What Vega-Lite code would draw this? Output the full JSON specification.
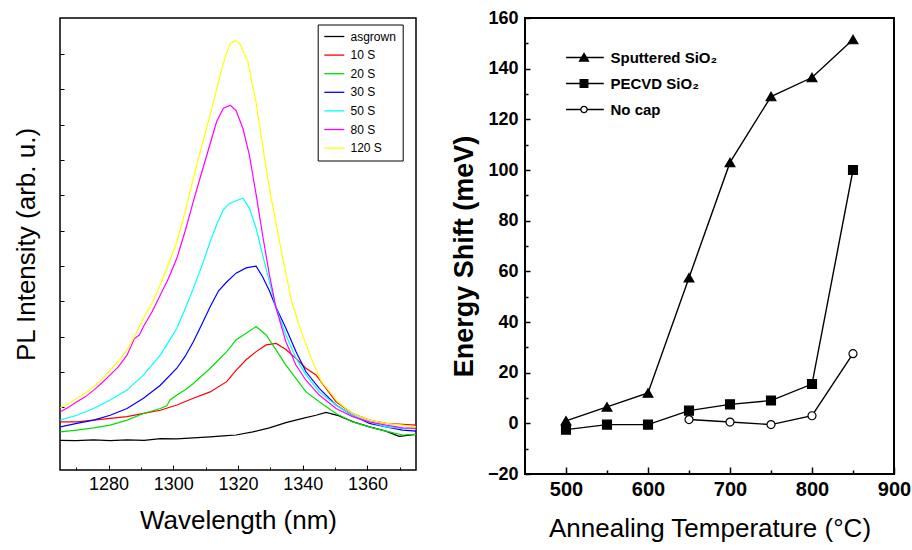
{
  "$schema": "https://vega.github.io/schema/vega-lite/v6.json",
  "padding": {"left": 12, "top": 8, "right": 0, "bottom": 0},
  "autosize": {"type": "pad"},
  "background": "white",
  "config": {
    "font": "Liberation Sans",
    "view": {"stroke": "black", "strokeWidth": 1.5},
    "axis": {"domain": false, "grid": false, "labelColor": "black", "titleColor": "black", "tickColor": "black", "labelFont": "Liberation Sans", "titleFont": "Liberation Sans"},
    "legend": {"labelFont": "Liberation Sans", "labelColor": "black"},
    "concat": {"spacing": 109}
  },
  "bounds": "flush",
  "spacing": 109,
  "datasets": {
    "pl": [
      {"s": "asgrown", "wl": 1265.1, "v": 1.07}, {"s": "asgrown", "wl": 1270, "v": 1.06}, {"s": "asgrown", "wl": 1275.4, "v": 1.08}, {"s": "asgrown", "wl": 1280.5, "v": 1.06}, {"s": "asgrown", "wl": 1285.7, "v": 1.08}, {"s": "asgrown", "wl": 1291, "v": 1.07}, {"s": "asgrown", "wl": 1296, "v": 1.12}, {"s": "asgrown", "wl": 1301, "v": 1.11}, {"s": "asgrown", "wl": 1306.2, "v": 1.14}, {"s": "asgrown", "wl": 1311.4, "v": 1.17}, {"s": "asgrown", "wl": 1316.5, "v": 1.2}, {"s": "asgrown", "wl": 1319.4, "v": 1.22}, {"s": "asgrown", "wl": 1324.6, "v": 1.31}, {"s": "asgrown", "wl": 1329.7, "v": 1.42}, {"s": "asgrown", "wl": 1334.8, "v": 1.57}, {"s": "asgrown", "wl": 1340, "v": 1.69}, {"s": "asgrown", "wl": 1344.1, "v": 1.78}, {"s": "asgrown", "wl": 1347.2, "v": 1.86}, {"s": "asgrown", "wl": 1351.3, "v": 1.76}, {"s": "asgrown", "wl": 1355.4, "v": 1.6}, {"s": "asgrown", "wl": 1360.6, "v": 1.45}, {"s": "asgrown", "wl": 1365.7, "v": 1.33}, {"s": "asgrown", "wl": 1369.8, "v": 1.18}, {"s": "asgrown", "wl": 1375, "v": 1.24},

      {"s": "10 S", "wl": 1265.1, "v": 1.59}, {"s": "10 S", "wl": 1270.2, "v": 1.59}, {"s": "10 S", "wl": 1275.4, "v": 1.64}, {"s": "10 S", "wl": 1280.5, "v": 1.69}, {"s": "10 S", "wl": 1285.7, "v": 1.74}, {"s": "10 S", "wl": 1290.8, "v": 1.83}, {"s": "10 S", "wl": 1296, "v": 1.92}, {"s": "10 S", "wl": 1301.1, "v": 2.07}, {"s": "10 S", "wl": 1306.2, "v": 2.26}, {"s": "10 S", "wl": 1311.4, "v": 2.44}, {"s": "10 S", "wl": 1316.5, "v": 2.73}, {"s": "10 S", "wl": 1319.4, "v": 3.05}, {"s": "10 S", "wl": 1322.5, "v": 3.35}, {"s": "10 S", "wl": 1325.6, "v": 3.58}, {"s": "10 S", "wl": 1328.7, "v": 3.77}, {"s": "10 S", "wl": 1331.8, "v": 3.81}, {"s": "10 S", "wl": 1334.8, "v": 3.64}, {"s": "10 S", "wl": 1337.9, "v": 3.39}, {"s": "10 S", "wl": 1341, "v": 3.11}, {"s": "10 S", "wl": 1344.1, "v": 2.92}, {"s": "10 S", "wl": 1347.2, "v": 2.54}, {"s": "10 S", "wl": 1350.3, "v": 2.16}, {"s": "10 S", "wl": 1355.4, "v": 1.83}, {"s": "10 S", "wl": 1360.6, "v": 1.64}, {"s": "10 S", "wl": 1365.7, "v": 1.55}, {"s": "10 S", "wl": 1370.9, "v": 1.52}, {"s": "10 S", "wl": 1375, "v": 1.5},

      {"s": "20 S", "wl": 1265.1, "v": 1.31}, {"s": "20 S", "wl": 1270.2, "v": 1.36}, {"s": "20 S", "wl": 1275.4, "v": 1.42}, {"s": "20 S", "wl": 1280.5, "v": 1.5}, {"s": "20 S", "wl": 1285.7, "v": 1.64}, {"s": "20 S", "wl": 1290.8, "v": 1.83}, {"s": "20 S", "wl": 1296, "v": 1.97}, {"s": "20 S", "wl": 1298, "v": 2.05}, {"s": "20 S", "wl": 1299, "v": 2.21}, {"s": "20 S", "wl": 1301.1, "v": 2.35}, {"s": "20 S", "wl": 1303.7, "v": 2.5}, {"s": "20 S", "wl": 1306.2, "v": 2.68}, {"s": "20 S", "wl": 1311.4, "v": 3.11}, {"s": "20 S", "wl": 1316.5, "v": 3.58}, {"s": "20 S", "wl": 1319.4, "v": 3.91}, {"s": "20 S", "wl": 1322.5, "v": 4.1}, {"s": "20 S", "wl": 1325.6, "v": 4.29}, {"s": "20 S", "wl": 1328.7, "v": 4.05}, {"s": "20 S", "wl": 1331.8, "v": 3.62}, {"s": "20 S", "wl": 1334.8, "v": 3.2}, {"s": "20 S", "wl": 1337.9, "v": 2.82}, {"s": "20 S", "wl": 1341, "v": 2.44}, {"s": "20 S", "wl": 1345.1, "v": 2.16}, {"s": "20 S", "wl": 1350.3, "v": 1.83}, {"s": "20 S", "wl": 1355.4, "v": 1.59}, {"s": "20 S", "wl": 1360.6, "v": 1.45}, {"s": "20 S", "wl": 1365.7, "v": 1.33}, {"s": "20 S", "wl": 1370.9, "v": 1.22}, {"s": "20 S", "wl": 1375, "v": 1.24},

      {"s": "30 S", "wl": 1265.1, "v": 1.45}, {"s": "30 S", "wl": 1270.2, "v": 1.55}, {"s": "30 S", "wl": 1275.4, "v": 1.64}, {"s": "30 S", "wl": 1280.5, "v": 1.78}, {"s": "30 S", "wl": 1285.7, "v": 1.97}, {"s": "30 S", "wl": 1290.8, "v": 2.26}, {"s": "30 S", "wl": 1296, "v": 2.63}, {"s": "30 S", "wl": 1301.1, "v": 3.11}, {"s": "30 S", "wl": 1303.7, "v": 3.45}, {"s": "30 S", "wl": 1306.2, "v": 3.86}, {"s": "30 S", "wl": 1308.8, "v": 4.35}, {"s": "30 S", "wl": 1311.4, "v": 4.85}, {"s": "30 S", "wl": 1314, "v": 5.3}, {"s": "30 S", "wl": 1316.5, "v": 5.55}, {"s": "30 S", "wl": 1319.4, "v": 5.8}, {"s": "30 S", "wl": 1322.5, "v": 5.95}, {"s": "30 S", "wl": 1325.6, "v": 6.0}, {"s": "30 S", "wl": 1327.6, "v": 5.7}, {"s": "30 S", "wl": 1329.7, "v": 5.3}, {"s": "30 S", "wl": 1331.8, "v": 4.82}, {"s": "30 S", "wl": 1334.8, "v": 4.24}, {"s": "30 S", "wl": 1337.9, "v": 3.58}, {"s": "30 S", "wl": 1341, "v": 3.01}, {"s": "30 S", "wl": 1345.1, "v": 2.54}, {"s": "30 S", "wl": 1350.3, "v": 2.07}, {"s": "30 S", "wl": 1355.4, "v": 1.78}, {"s": "30 S", "wl": 1360.6, "v": 1.55}, {"s": "30 S", "wl": 1365.7, "v": 1.45}, {"s": "30 S", "wl": 1370.9, "v": 1.36}, {"s": "30 S", "wl": 1375, "v": 1.33},

      {"s": "50 S", "wl": 1265.1, "v": 1.64}, {"s": "50 S", "wl": 1270.2, "v": 1.78}, {"s": "50 S", "wl": 1275.4, "v": 1.97}, {"s": "50 S", "wl": 1280.5, "v": 2.21}, {"s": "50 S", "wl": 1285.7, "v": 2.49}, {"s": "50 S", "wl": 1290.8, "v": 2.92}, {"s": "50 S", "wl": 1296, "v": 3.48}, {"s": "50 S", "wl": 1298.5, "v": 3.85}, {"s": "50 S", "wl": 1301.1, "v": 4.24}, {"s": "50 S", "wl": 1303.7, "v": 4.8}, {"s": "50 S", "wl": 1306.2, "v": 5.37}, {"s": "50 S", "wl": 1308.8, "v": 6.0}, {"s": "50 S", "wl": 1311.4, "v": 6.69}, {"s": "50 S", "wl": 1313.5, "v": 7.2}, {"s": "50 S", "wl": 1315.5, "v": 7.6}, {"s": "50 S", "wl": 1317.5, "v": 7.78}, {"s": "50 S", "wl": 1319.4, "v": 7.85}, {"s": "50 S", "wl": 1321.5, "v": 7.92}, {"s": "50 S", "wl": 1323.5, "v": 7.64}, {"s": "50 S", "wl": 1325.6, "v": 7.07}, {"s": "50 S", "wl": 1327.6, "v": 6.32}, {"s": "50 S", "wl": 1329.7, "v": 5.56}, {"s": "50 S", "wl": 1331.8, "v": 4.8}, {"s": "50 S", "wl": 1334.8, "v": 4.05}, {"s": "50 S", "wl": 1337.9, "v": 3.39}, {"s": "50 S", "wl": 1341, "v": 2.92}, {"s": "50 S", "wl": 1345.1, "v": 2.44}, {"s": "50 S", "wl": 1350.3, "v": 2.07}, {"s": "50 S", "wl": 1355.4, "v": 1.78}, {"s": "50 S", "wl": 1360.6, "v": 1.59}, {"s": "50 S", "wl": 1365.7, "v": 1.45}, {"s": "50 S", "wl": 1370.9, "v": 1.41}, {"s": "50 S", "wl": 1375, "v": 1.39},

      {"s": "80 S", "wl": 1265.1, "v": 1.88}, {"s": "80 S", "wl": 1267.5, "v": 2.0}, {"s": "80 S", "wl": 1270.2, "v": 2.16}, {"s": "80 S", "wl": 1272.8, "v": 2.3}, {"s": "80 S", "wl": 1275.4, "v": 2.49}, {"s": "80 S", "wl": 1278, "v": 2.7}, {"s": "80 S", "wl": 1280.5, "v": 2.92}, {"s": "80 S", "wl": 1283, "v": 3.15}, {"s": "80 S", "wl": 1285.7, "v": 3.48}, {"s": "80 S", "wl": 1288, "v": 3.95}, {"s": "80 S", "wl": 1289.5, "v": 4.05}, {"s": "80 S", "wl": 1290.8, "v": 4.29}, {"s": "80 S", "wl": 1293.4, "v": 4.7}, {"s": "80 S", "wl": 1296, "v": 5.18}, {"s": "80 S", "wl": 1298.5, "v": 5.65}, {"s": "80 S", "wl": 1301.1, "v": 6.22}, {"s": "80 S", "wl": 1303.7, "v": 7.0}, {"s": "80 S", "wl": 1306.2, "v": 7.83}, {"s": "80 S", "wl": 1308.3, "v": 8.5}, {"s": "80 S", "wl": 1310.4, "v": 9.15}, {"s": "80 S", "wl": 1313.4, "v": 10.09}, {"s": "80 S", "wl": 1315.5, "v": 10.47}, {"s": "80 S", "wl": 1317.6, "v": 10.55}, {"s": "80 S", "wl": 1319.4, "v": 10.4}, {"s": "80 S", "wl": 1321.5, "v": 9.9}, {"s": "80 S", "wl": 1323.5, "v": 9.15}, {"s": "80 S", "wl": 1325.6, "v": 8.02}, {"s": "80 S", "wl": 1327.6, "v": 6.88}, {"s": "80 S", "wl": 1329.7, "v": 5.75}, {"s": "80 S", "wl": 1331.8, "v": 4.8}, {"s": "80 S", "wl": 1334.8, "v": 3.86}, {"s": "80 S", "wl": 1337.9, "v": 3.2}, {"s": "80 S", "wl": 1341, "v": 2.77}, {"s": "80 S", "wl": 1345.1, "v": 2.35}, {"s": "80 S", "wl": 1350.3, "v": 1.97}, {"s": "80 S", "wl": 1355.4, "v": 1.74}, {"s": "80 S", "wl": 1360.6, "v": 1.59}, {"s": "80 S", "wl": 1365.7, "v": 1.5}, {"s": "80 S", "wl": 1370.9, "v": 1.42}, {"s": "80 S", "wl": 1375, "v": 1.41},

      {"s": "120 S", "wl": 1265.1, "v": 1.99}, {"s": "120 S", "wl": 1267.5, "v": 2.1}, {"s": "120 S", "wl": 1270.2, "v": 2.26}, {"s": "120 S", "wl": 1272.8, "v": 2.4}, {"s": "120 S", "wl": 1275.4, "v": 2.59}, {"s": "120 S", "wl": 1278, "v": 2.8}, {"s": "120 S", "wl": 1280.5, "v": 3.06}, {"s": "120 S", "wl": 1283, "v": 3.3}, {"s": "120 S", "wl": 1285.7, "v": 3.62}, {"s": "120 S", "wl": 1288, "v": 4.0}, {"s": "120 S", "wl": 1290.8, "v": 4.52}, {"s": "120 S", "wl": 1293.4, "v": 4.95}, {"s": "120 S", "wl": 1296, "v": 5.47}, {"s": "120 S", "wl": 1298.5, "v": 6.05}, {"s": "120 S", "wl": 1301.1, "v": 6.69}, {"s": "120 S", "wl": 1303.7, "v": 7.55}, {"s": "120 S", "wl": 1306.2, "v": 8.49}, {"s": "120 S", "wl": 1308.8, "v": 9.4}, {"s": "120 S", "wl": 1311.4, "v": 10.28}, {"s": "120 S", "wl": 1314.5, "v": 11.41}, {"s": "120 S", "wl": 1316, "v": 11.9}, {"s": "120 S", "wl": 1317.6, "v": 12.31}, {"s": "120 S", "wl": 1319.4, "v": 12.38}, {"s": "120 S", "wl": 1320.5, "v": 12.3}, {"s": "120 S", "wl": 1323, "v": 11.8}, {"s": "120 S", "wl": 1325.6, "v": 10.61}, {"s": "120 S", "wl": 1328.1, "v": 9.12}, {"s": "120 S", "wl": 1330.2, "v": 7.95}, {"s": "120 S", "wl": 1332.3, "v": 6.93}, {"s": "120 S", "wl": 1336.4, "v": 5.05}, {"s": "120 S", "wl": 1339.5, "v": 4.15}, {"s": "120 S", "wl": 1343.1, "v": 3.29}, {"s": "120 S", "wl": 1345.6, "v": 2.76}, {"s": "120 S", "wl": 1350.8, "v": 2.16}, {"s": "120 S", "wl": 1355.4, "v": 1.83}, {"s": "120 S", "wl": 1360.6, "v": 1.64}, {"s": "120 S", "wl": 1365.7, "v": 1.55}, {"s": "120 S", "wl": 1370.9, "v": 1.5}, {"s": "120 S", "wl": 1375, "v": 1.45}
    ],
    "es": [
      {"c": "Sputtered SiO₂", "t": 500, "e": 1}, {"c": "Sputtered SiO₂", "t": 550, "e": 6.5}, {"c": "Sputtered SiO₂", "t": 600, "e": 12}, {"c": "Sputtered SiO₂", "t": 650, "e": 57.5}, {"c": "Sputtered SiO₂", "t": 700, "e": 103}, {"c": "Sputtered SiO₂", "t": 750, "e": 129}, {"c": "Sputtered SiO₂", "t": 800, "e": 136.5}, {"c": "Sputtered SiO₂", "t": 850, "e": 151.5},
      {"c": "PECVD SiO₂", "t": 500, "e": -2.5}, {"c": "PECVD SiO₂", "t": 550, "e": -0.5}, {"c": "PECVD SiO₂", "t": 600, "e": -0.5}, {"c": "PECVD SiO₂", "t": 650, "e": 5}, {"c": "PECVD SiO₂", "t": 700, "e": 7.5}, {"c": "PECVD SiO₂", "t": 750, "e": 9}, {"c": "PECVD SiO₂", "t": 800, "e": 15.5}, {"c": "PECVD SiO₂", "t": 850, "e": 100},
      {"c": "No cap", "t": 650, "e": 1.5}, {"c": "No cap", "t": 700, "e": 0.5}, {"c": "No cap", "t": 750, "e": -0.5}, {"c": "No cap", "t": 800, "e": 3}, {"c": "No cap", "t": 850, "e": 27.5}
    ]
  },
  "hconcat": [
    {
      "width": 356,
      "height": 452,
      "data": {"name": "pl"},
      "mark": {"type": "line", "strokeWidth": 1.2},
      "encoding": {
        "x": {
          "field": "wl", "type": "quantitative",
          "scale": {"domain": [1265, 1375], "nice": false, "zero": false},
          "axis": {
            "values": [1270, 1280, 1290, 1300, 1310, 1320, 1330, 1340, 1350, 1360, 1370],
            "labelExpr": "datum.value % 20 === 0 ? datum.label : ''",
            "format": "d",
            "tickSize": {"condition": {"test": "datum.value % 20 === 0", "value": -5}, "value": -3},
            "labelFontSize": 18, "labelPadding": 10, "labelFlush": false,
            "title": "Wavelength (nm)", "titleFontSize": 26, "titleFontWeight": "normal", "titlePadding": 14
          }
        },
        "y": {
          "field": "v", "type": "quantitative",
          "scale": {"domain": [0.23, 13.02], "nice": false, "zero": false},
          "axis": {
            "values": [2, 3, 4, 5, 6, 7, 8, 9, 10, 11, 12],
            "labels": false,
            "tickSize": -4,
            "title": "PL Intensity (arb. u.)", "titleFontSize": 26, "titleFontWeight": "normal", "titlePadding": 20
          }
        },
        "color": {
          "field": "s", "type": "nominal",
          "scale": {"domain": ["asgrown", "10 S", "20 S", "30 S", "50 S", "80 S", "120 S"], "range": ["#000000", "#ff0000", "#00e000", "#0000ff", "#00ffff", "#ff00ff", "#ffff00"]},
          "legend": {
            "orient": "none", "legendX": 257.7, "legendY": 6.5, "title": null,
            "symbolType": "M-1.08,0H2.92", "symbolSize": 100, "symbolStrokeWidth": 1.3,
            "labelFontSize": 12, "labelOffset": 14.8, "rowPadding": 6.6, "padding": 6,
            "strokeColor": "black", "fillColor": "white"
          }
        }
      }
    },
    {
      "width": 369,
      "height": 456,
      "view": {"stroke": "black", "strokeWidth": 2},
      "data": {"name": "es"},
      "encoding": {
        "x": {
          "field": "t", "type": "quantitative",
          "scale": {"domain": [450, 900], "nice": false, "zero": false},
          "axis": {
            "values": [500, 550, 600, 650, 700, 750, 800, 850, 900],
            "labelExpr": "datum.value % 100 === 0 ? datum.label : ''",
            "tickSize": {"condition": {"test": "datum.value % 100 === 0", "value": -7}, "value": -4},
            "tickWidth": 1.5,
            "labelFontSize": 20, "labelFontWeight": "bold", "labelPadding": 12, "labelFlush": false,
            "title": "Annealing Temperature (°C)", "titleFontSize": 26, "titleFontWeight": "normal", "titlePadding": 16
          }
        },
        "y": {
          "field": "e", "type": "quantitative",
          "scale": {"domain": [-20, 160], "nice": false, "zero": false},
          "axis": {
            "values": [-20, -10, 0, 10, 20, 30, 40, 50, 60, 70, 80, 90, 100, 110, 120, 130, 140, 150, 160],
            "labelExpr": "datum.value % 20 === 0 ? datum.label : ''",
            "tickSize": {"condition": {"test": "datum.value % 20 === 0", "value": -5}, "value": -3},
            "tickWidth": 1.5,
            "labelFontSize": 18, "labelFontWeight": "bold", "labelPadding": 12, "labelFlush": false,
            "title": "Energy Shift (meV)", "titleFontSize": 27, "titleFontWeight": "bold", "titlePadding": 9, "titleY": 238
          }
        }
      },
      "layer": [
        {
          "mark": {"type": "line", "color": "black", "strokeWidth": 1.4},
          "encoding": {"detail": {"field": "c", "type": "nominal"}}
        },
        {
          "mark": {"type": "point", "filled": true, "stroke": "black", "strokeWidth": 1.2, "opacity": 1},
          "encoding": {
            "shape": {"field": "c", "type": "nominal", "scale": {"domain": ["Sputtered SiO₂", "PECVD SiO₂", "No cap"], "range": ["triangle-up", "square", "circle"]}, "legend": null},
            "fill": {"field": "c", "type": "nominal", "scale": {"domain": ["Sputtered SiO₂", "PECVD SiO₂", "No cap"], "range": ["black", "black", "white"]}, "legend": null},
            "size": {"field": "c", "type": "nominal", "scale": {"domain": ["Sputtered SiO₂", "PECVD SiO₂", "No cap"], "range": [95, 64, 40]}, "legend": null}
          }
        },
        {
          "transform": [{"filter": "datum.t < 0"}],
          "mark": {"type": "point", "filled": true, "stroke": "black", "strokeWidth": 1.3, "opacity": 1, "size": 81},
          "encoding": {
            "shape": {"field": "c", "type": "nominal",
              "scale": {"domain": ["Sputtered SiO₂", "PECVD SiO₂", "No cap"], "range": ["M-4,0H4.4M0,-0.9L1,0.8H-1Z", "M-4,0H4.4M-0.85,-0.85H0.85V0.85H-0.85Z", "M-4,0H-0.7M0.7,0H4.4M0.7,0A0.7,0.7,0,1,1,-0.7,0A0.7,0.7,0,1,1,0.7,0Z"]},
              "legend": {"orient": "none", "legendX": 51.5, "legendY": 32, "title": null, "symbolSize": 81, "symbolStrokeWidth": 1.3, "labelFontSize": 15, "labelFontWeight": "bold", "labelOffset": 19, "rowPadding": 10, "padding": 0,
                "encode": {"symbols": {"update": {"stroke": {"value": "black"}, "strokeWidth": {"value": 1.3}}}}}
            },
            "fill": {"field": "c", "type": "nominal",
              "scale": {"domain": ["Sputtered SiO₂", "PECVD SiO₂", "No cap"], "range": ["black", "black", "white"]},
              "legend": {"orient": "none", "legendX": 51.5, "legendY": 32, "title": null, "symbolSize": 81, "symbolStrokeWidth": 1.3, "labelFontSize": 15, "labelFontWeight": "bold", "labelOffset": 19, "rowPadding": 10, "padding": 0,
                "encode": {"symbols": {"update": {"stroke": {"value": "black"}, "strokeWidth": {"value": 1.3}}}}}
            }
          }
        }
      ],
      "resolve": {"scale": {"shape": "independent", "fill": "independent", "size": "independent"}}
    }
  ]
}
